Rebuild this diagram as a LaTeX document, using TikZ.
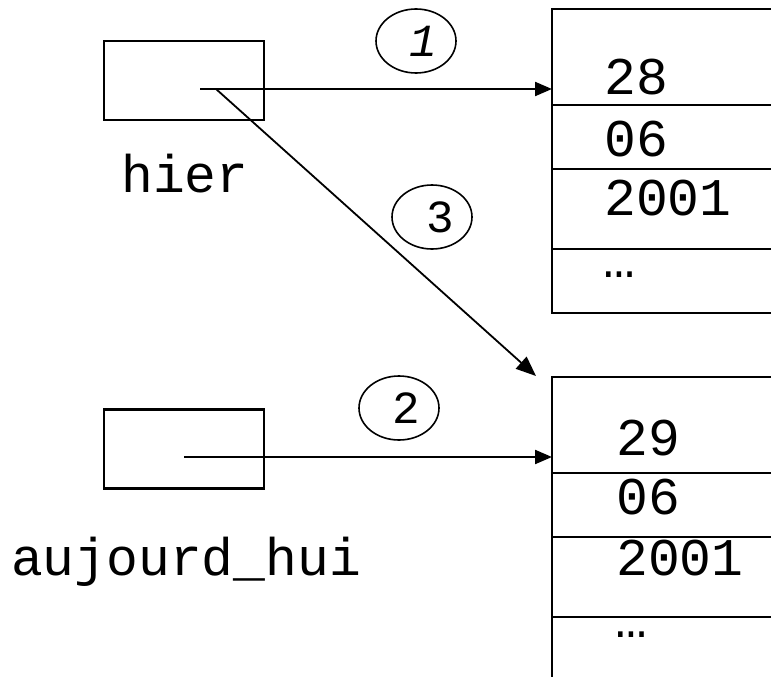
\documentclass[tikz,border=0pt]{standalone}
\usepackage{fontspec}
\setmonofont{Liberation Mono}
\usetikzlibrary{arrows.meta,shapes.geometric}
\begin{document}
\begin{tikzpicture}[x=1pt,y=-1pt,
  ptrbox/.style={draw,line width=2.6pt,minimum width=160pt,minimum height=79pt,inner sep=0pt},
  memline/.style={line width=2.6pt},
  val/.style={anchor=base west,inner sep=0pt,font=\fontsize{53}{53}\selectfont\ttfamily},
  num/.style={draw,ellipse,line width=1.6pt,minimum width=80pt,minimum height=64pt,inner sep=0pt,font=\fontsize{46}{46}\selectfont\ttfamily},
  ptr/.style={line width=2.2pt,-{Triangle[length=17pt,width=14pt]}},
  diag/.style={line width=1.8pt,-{Triangle[length=20pt,width=16pt]}}]
\useasboundingbox (0,0) rectangle (771,677);
% pointer boxes
\node[ptrbox] (hier) at (184,80.5) {};
\node[ptrbox] (auj) at (184,449) {};
\node[val] (hiertxt) at (121,192) {hier};
\node[val] (aujtxt) at (11,575) {aujourd\_hui};
% top memory block
\draw[memline] (771,9) -- (552,9) -- (552,313) -- (771,313);
\draw[memline] (552,105) -- (771,105);
\draw[memline] (552,169) -- (771,169);
\draw[memline] (552,249) -- (771,249);
% bottom memory block
\draw[memline] (771,377) -- (552,377) -- (552,677);
\draw[memline] (552,473) -- (771,473);
\draw[memline] (552,537) -- (771,537);
\draw[memline] (552,617) -- (771,617);
% values
\node[val] (v28) at (604,95) {28};
\node[val] (v06a) at (604,156) {06};
\node[val] (v2001a) at (604,215) {2001};
\node[val] (dotsa) at (603,277) {…};
\node[val] (v29) at (616,455) {29};
\node[val] (v06b) at (616,514) {06};
\node[val] (v2001b) at (616,575) {2001};
\node[val] (dotsb) at (615,637) {…};
% anchors for connectors
\coordinate (s1) at (200,89);
\coordinate (s3) at (216,89);
\coordinate (s2) at (184,457);
\coordinate (t1) at (552,89);
\coordinate (t3) at (536,376);
\coordinate (t2) at (552,457);
\draw[ptr] (s1) -- (t1);
\draw[ptr] (s2) -- (t2);
\draw[diag] (s3) -- (t3);
% step numbers
\node[num] (n1) at (416,41) {\hspace*{14pt}\itshape 1};
\node[num] (n3) at (432,217) {\hspace*{16pt}3};
\node[num] (n2) at (399,408) {\hspace*{14pt}2};
\end{tikzpicture}
\end{document}
